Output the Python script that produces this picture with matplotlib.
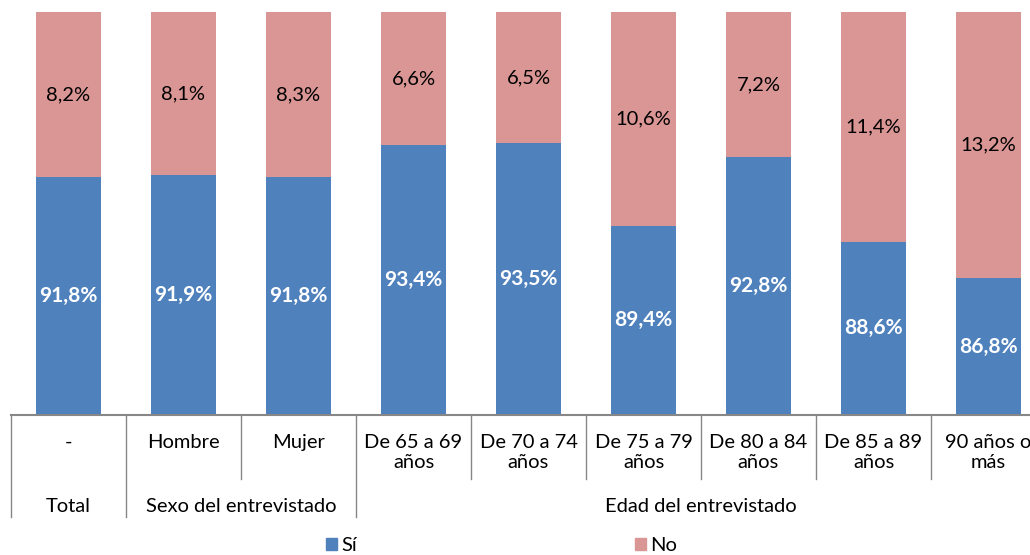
import numpy as np
import matplotlib.pyplot as plt
import matplotlib.patches as mpatches
import matplotlib.transforms as mtransforms

plt.rcParams['font.family'] = ['Lato', 'DejaVu Sans']

categories = ['-', 'Hombre', 'Mujer', 'De 65 a 69\naños', 'De 70 a 74\naños',
              'De 75 a 79\naños', 'De 80 a 84\naños', 'De 85 a 89\naños', '90 años o\nmás']
si = [91.8, 91.9, 91.8, 93.4, 93.5, 89.4, 92.8, 88.6, 86.8]
no = [8.2, 8.1, 8.3, 6.6, 6.5, 10.6, 7.2, 11.4, 13.2]
groups = ['Total', 'Sexo del entrevistado', 'Edad del entrevistado']
group_span = [(0, 0), (1, 2), (3, 8)]

blue = '#4F81BD'
pink = '#D99694'
grey = '#878787'

W, H = 1030, 555
fig = plt.figure(figsize=(W / 100, H / 100), dpi=100)
# axes runs a bit past the right edge, like the original export
ax_left, ax_right, ax_top, ax_bot = 11, 1046, 12, 415
ax = fig.add_axes([ax_left / W, 1 - ax_bot / H, (ax_right - ax_left) / W, (ax_bot - ax_top) / H])

x = np.arange(len(categories))
ax.bar(x, si, width=0.565, color=blue)
ax.bar(x, no, bottom=si, width=0.565, color=pink)
ax.set_xlim(-0.5, len(categories) - 0.5)
ax.set_ylim(80, 100)

def fmt(v):
    return f'{v:.1f}%'.replace('.', ',')

for i in x:
    ax.text(i, (80 + si[i]) / 2, fmt(si[i]), ha='center', va='center',
            color='white', fontsize=15, fontweight='bold')
    ax.text(i, (si[i] + 100) / 2, fmt(no[i]), ha='center', va='center',
            color='black', fontsize=14.5)

for s in ['top', 'right', 'left']:
    ax.spines[s].set_visible(False)
ax.spines['bottom'].set_color(grey)
ax.spines['bottom'].set_linewidth(1.5)
ax.set_xticks([])
ax.set_yticks([])

trans = mtransforms.blended_transform_factory(ax.transData, ax.transAxes)
ph = ax_bot - ax_top

def yf(py):
    return (ax_bot - py) / ph

# category labels
for i, lab in enumerate(categories):
    ax.text(i, yf(434), lab, transform=trans, ha='center', va='top',
            fontsize=14.5, linespacing=1.2)

# separators
starts = [s for s, e in group_span]
for b in range(len(categories)):
    bottom = 517 if b in starts else 479
    ax.plot([b - 0.5, b - 0.5], [0, yf(bottom)], transform=trans,
            color=grey, lw=1, clip_on=False)

# group labels
for g, (s, e) in zip(groups, group_span):
    ax.text((s + e) / 2, yf(506), g, transform=trans, ha='center', va='center', fontsize=14.5)

handles = [mpatches.Patch(color=blue, label='Sí'), mpatches.Patch(color=pink, label='No')]
fig.legend(handles=handles, loc='center', bbox_to_anchor=(0.487, 0.017), ncol=2,
           frameon=False, fontsize=14.5, handlelength=0.55, handleheight=0.55,
           handletextpad=0.25, columnspacing=13.75)

fig.savefig('out.png', dpi=100)
